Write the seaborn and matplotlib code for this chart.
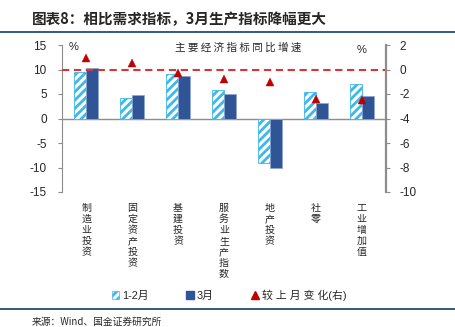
import numpy as np
import pandas as pd
import matplotlib
matplotlib.use("Agg")
import matplotlib.pyplot as plt
from matplotlib.patches import Patch
from matplotlib.lines import Line2D
import seaborn as sns

# ---- data ----
categories = ["制造业投资", "固定资产投资", "基建投资", "服务业生产指数", "地产投资", "社零", "工业增加值"]
jan_feb = [9.4, 4.2, 9.0, 5.8, -9.0, 5.5, 7.0]
march = [10.3, 4.7, 8.7, 5.0, -10.0, 3.1, 4.5]
change = [0.9, 0.5, -0.3, -0.8, -1.0, -2.4, -2.5]
series_names = ["1-2月", "3月"]
left_ticks = [-15, -10, -5, 0, 5, 10, 15]
right_ticks = [-10, -8, -6, -4, -2, 0, 2]

sns.set_style("white")
plt.rcParams["font.family"] = ["Liberation Sans", "Noto Sans CJK SC", "DejaVu Sans"]
plt.rcParams["hatch.linewidth"] = 2.0
plt.rcParams["axes.unicode_minus"] = False

CJK = ["Noto Sans CJK SC", "DejaVu Sans"]
DARK = "#2F5597"
LIGHT = "#3DB8EA"
RED = "#C00000"
GRAY = "#8C8C8C"

df = pd.DataFrame({
    "cat": categories * 2,
    "val": jan_feb + march,
    "series": [series_names[0]] * len(categories) + [series_names[1]] * len(categories),
})

fig = plt.figure(figsize=(4.56, 3.27), dpi=100)
ax = fig.add_axes([62 / 456, 1 - 192 / 327, (386 - 62) / 456, (192 - 45) / 327])

sns.barplot(data=df, x="cat", y="val", hue="series", order=categories,
            hue_order=series_names, palette=[LIGHT, DARK], width=0.52,
            gap=0, legend=False, ax=ax, saturation=1)

for p in ax.containers[0]:
    p.set_facecolor("white")
    p.set_edgecolor(LIGHT)
    p.set_hatch("////")
    p.set_linewidth(0.6)
for p in ax.containers[1]:
    p.set_edgecolor("#8FA6CF")
    p.set_linewidth(0.6)

ax.axhline(0, color=GRAY, lw=1, zorder=0.5)
ax.set_ylim(-15, 15)
ax.set_yticks(left_ticks)
ax.set_xlim(-0.53, 6.53)
ax.set_xlabel("")
ax.set_ylabel("")
ax.set_xticks(range(len(categories)))
ax.set_xticklabels(["\n".join(c) for c in categories], family=CJK, fontsize=7.2,
                   linespacing=1.12, va="top")
ax.tick_params(axis="x", length=0, pad=8)
ax.tick_params(axis="y", direction="out", length=3, width=0.8, color=GRAY,
               labelsize=8.5, pad=8, left=True)
for s in ["top", "bottom", "right"]:
    ax.spines[s].set_visible(False)
ax.spines["left"].set_color(GRAY)
ax.spines["left"].set_linewidth(0.8)

ax2 = ax.twinx()
sns.pointplot(x=categories, y=change, order=categories, ax=ax2, color=RED,
              marker="^", markersize=5.8, markeredgewidth=0.3, linestyle="none")
ax2.set_ylim(-10, 2)
ax2.set_yticks(right_ticks)
ax2.set_xlim(-0.53, 6.53)
ax2.axhline(0, color="#D9343A", ls=(0, (3.5, 2.2)), lw=1.5, zorder=1)
ax2.set_ylabel("")
for s in ["top", "bottom", "left"]:
    ax2.spines[s].set_visible(False)
ax2.spines["right"].set_color(GRAY)
ax2.spines["right"].set_linewidth(1.6)
ax2.tick_params(axis="y", direction="out", length=3, width=0.8, color=GRAY,
                labelsize=8.5, pad=7, right=True)

ax.text(0.035, 0.985, "%", transform=ax.transAxes, fontsize=8, ha="center", va="center")
ax.text(0.925, 0.965, "%", transform=ax.transAxes, fontsize=8, ha="center", va="center")
ax.text(0.545, 0.985, "主 要 经 济 指 标 同 比 增 速", transform=ax.transAxes,
        family=CJK, fontsize=7.6, ha="center", va="center")

# title and rules
fig.text(32 / 456, 1 - 19 / 327, "图表8：相比需求指标，3月生产指标降幅更大", family=CJK,
         fontsize=10.5, fontweight="bold", style="italic", ha="left", va="center")
fig.add_artist(Line2D([0, 1], [1 - 31.5 / 327] * 2, color="#1F4E79", lw=1.3))
fig.add_artist(Line2D([0, 1], [1 - 308.5 / 327] * 2, color="#1F4E79", lw=1.3))
fig.text(32 / 456, 1 - 322 / 327, "来源：Wind、国金证券研究所", family=CJK,
         fontsize=7, ha="left", va="center")

handles = [
    Patch(facecolor="white", edgecolor=LIGHT, hatch="////", lw=0.5),
    Patch(facecolor=DARK, edgecolor=DARK),
    Line2D([], [], marker="^", color=RED, ls="none", markersize=5.5),
]
labels = ["1-2月", "3月", "较 上 月 变 化(右)"]
fig.legend(handles, labels, loc="center", bbox_to_anchor=(229 / 456, 1 - 295 / 327),
           ncol=3, frameon=False, handlelength=0.7, handleheight=0.7,
           handletextpad=0.25, columnspacing=3.5,
           prop={"family": ["Liberation Sans", "Noto Sans CJK SC"], "size": 7.8})

fig.savefig("out.png", dpi=100)
